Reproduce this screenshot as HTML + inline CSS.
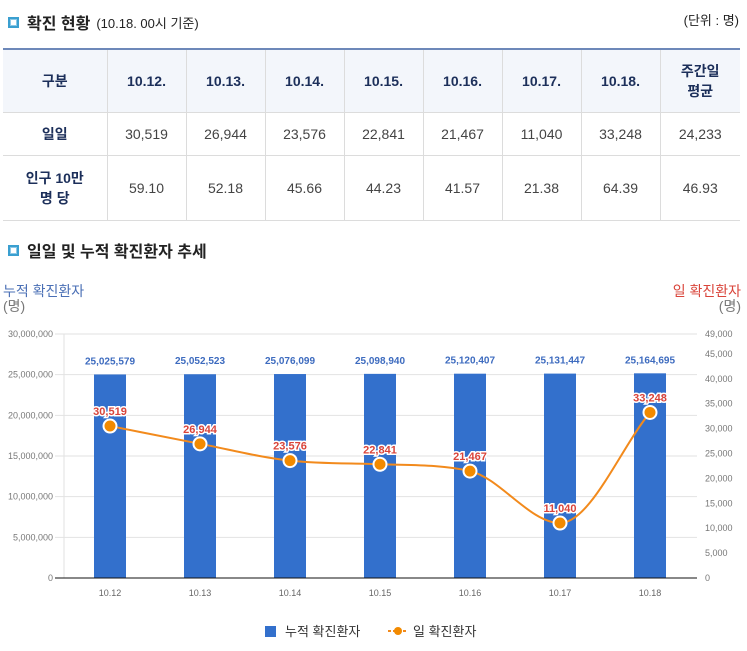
<!DOCTYPE html>
<html><head><meta charset="utf-8">
<style>
body{margin:0;width:747px;height:651px;background:#fff;font-family:"Liberation Sans","Noto Sans CJK KR",sans-serif;overflow:hidden;position:relative}
.ttl{position:absolute;left:8px;font-size:16px;font-weight:bold;color:#222;display:flex;align-items:center}
.ttl .ic{width:7px;height:7px;border:2px solid #3a9fd0;background:#fff;margin-right:8px;box-shadow:inset 0 0 0 1px #8cc8e6}
.ttl small{font-size:13px;font-weight:normal;margin-left:6px}
table{position:absolute;left:3px;top:48px;border-collapse:collapse;width:737px;table-layout:fixed}
td,th{border:1px solid #dcdcdc;text-align:center;font-size:14px;color:#444;padding:0}
tr:first-child th{border-top:2px solid #6d88b9;background:#f3f6fb;color:#1c2f5a;height:62px;font-weight:bold}
td.h{font-weight:bold;color:#1c2f5a}
table tr td:first-child,table tr th:first-child{border-left:none}
table tr td:last-child,table tr th:last-child{border-right:none}
</style></head><body>
<div class="ttl" style="top:10px"><span class="ic"></span>확진 현황<small>(10.18. 00시 기준)</small></div>
<div style="position:absolute;right:8px;top:10px;font-size:13px;color:#222">(단위 : 명)</div>
<table>
<colgroup><col style="width:104px"><col style="width:79px"><col style="width:79px"><col style="width:79px"><col style="width:79px"><col style="width:79px"><col style="width:79px"><col style="width:79px"><col style="width:80px"></colgroup>
<tr><th>구분</th><th>10.12.</th><th>10.13.</th><th>10.14.</th><th>10.15.</th><th>10.16.</th><th>10.17.</th><th>10.18.</th><th>주간일<br>평균</th></tr>
<tr style="height:43px"><td class="h">일일</td><td>30,519</td><td>26,944</td><td>23,576</td><td>22,841</td><td>21,467</td><td>11,040</td><td>33,248</td><td>24,233</td></tr>
<tr style="height:65px"><td class="h">인구 10만<br>명 당</td><td>59.10</td><td>52.18</td><td>45.66</td><td>44.23</td><td>41.57</td><td>21.38</td><td>64.39</td><td>46.93</td></tr>
</table>
<div class="ttl" style="top:238px"><span class="ic"></span>일일 및 누적 확진환자 추세</div>
<div style="position:absolute;left:3px;top:284px;font-size:14px;line-height:15px;color:#4a6fb5">누적 확진환자<br><span style="color:#777">(명)</span></div>
<div style="position:absolute;right:6px;top:284px;font-size:14px;line-height:15px;color:#d9443a;text-align:right">일 확진환자<br><span style="color:#777">(명)</span></div>
<svg id="ch" width="747" height="651" style="position:absolute;left:0;top:0"></svg>
<script>
const categories=["10.12","10.13","10.14","10.15","10.16","10.17","10.18"];
const cumulative=[25025579,25052523,25076099,25098940,25120407,25131447,25164695];
const daily=[30519,26944,23576,22841,21467,11040,33248];
const leftTicks=[0,5000000,10000000,15000000,20000000,25000000,30000000];
const rightTicks=[0,5000,10000,15000,20000,25000,30000,35000,40000,45000,49000];
const NS="http://www.w3.org/2000/svg",svg=document.getElementById('ch');
const x0=65,bw=90,yb=578,yt=334;
const xc=i=>x0+bw*(i+0.5);
const yl=v=>yb-(v/30000000)*(yb-yt);
const yr=v=>yb-(v/49000)*(yb-yt);
const fmt=v=>v.toLocaleString('en-US');
function el(t,a,txt){const e=document.createElementNS(NS,t);for(const k in a)e.setAttribute(k,a[k]);if(txt!=null)e.textContent=txt;svg.appendChild(e);return e;}
leftTicks.forEach(v=>{
 const g=el('line',{x1:55,x2:697,y1:yl(v),y2:yl(v),stroke:'#e2e2e2'});
 
 
 const t=el('text',{x:53,y:yl(v)+3,'text-anchor':'end','font-size':9,fill:'#777'},fmt(v));
 
 
});
rightTicks.forEach(v=>{
 const t=el('text',{x:705,y:yr(v)+3,'font-size':9,fill:'#777'},fmt(v));
 
 
});
el('line',{x1:64,x2:64,y1:yt,y2:yb,stroke:'#e2e2e2'});
categories.forEach((c,i)=>{
 const b=el('rect',{x:xc(i)-16,y:yl(cumulative[i]),width:32,height:yb-yl(cumulative[i]),fill:'#3370cc'});
 
 
 const l=el('text',{x:xc(i),y:yl(cumulative[i])-10,'text-anchor':'middle','font-size':10,'font-weight':'bold',fill:'#3d6bbf'},fmt(cumulative[i]));
 
 
 const xl=el('text',{x:xc(i),y:yb+18,'text-anchor':'middle','font-size':9,fill:'#666'},c);
 
 
});
el('line',{x1:55,x2:697,y1:yb,y2:yb,stroke:'#111','stroke-width':1});
// monotone cubic
const P=daily.map((v,i)=>[xc(i),yr(v)]),n=P.length;
const d=[],m=[];
for(let i=0;i<n-1;i++)d.push((P[i+1][1]-P[i][1])/(P[i+1][0]-P[i][0]));
m[0]=d[0];m[n-1]=d[n-2];
for(let i=1;i<n-1;i++)m[i]=d[i-1]*d[i]<=0?0:(d[i-1]+d[i])/2;
for(let i=0;i<n-1;i++){if(d[i]===0){m[i]=m[i+1]=0;continue;}const a=m[i]/d[i],b=m[i+1]/d[i],s=a*a+b*b;if(s>9){const t=3/Math.sqrt(s);m[i]=t*a*d[i];m[i+1]=t*b*d[i];}}
let path='M'+P[0][0]+','+P[0][1];
for(let i=0;i<n-1;i++){const h=(P[i+1][0]-P[i][0])/3;path+=` C${P[i][0]+h},${P[i][1]+m[i]*h} ${P[i+1][0]-h},${P[i+1][1]-m[i+1]*h} ${P[i+1][0]},${P[i+1][1]}`;}
const ln=el('path',{d:path,fill:'none',stroke:'#f28a1c','stroke-width':2});


daily.forEach((v,i)=>{
 const c=el('circle',{cx:xc(i),cy:yr(v),r:6.5,fill:'#f28a00',stroke:'#fff','stroke-width':2});
 
 
 const t=el('text',{x:xc(i),y:yr(v)-11,'text-anchor':'middle','font-size':11,'font-weight':'bold',fill:'#d9443a',stroke:'#fff','stroke-width':3,'paint-order':'stroke'},fmt(v));
 
 
});
// legend
const lg1=el('rect',{x:265,y:626,width:11,height:11,fill:'#3370cc'});


const lt1=el('text',{x:285,y:636,'font-size':13,fill:'#333'},'누적 확진환자');


const lg2=el('line',{x1:388,x2:408,y1:631,y2:631,stroke:'#f28a1c','stroke-width':2,'stroke-dasharray':'3,2'});


el('circle',{cx:398,cy:631,r:4,fill:'#f28a00'});
const lt2=el('text',{x:413,y:636,'font-size':13,fill:'#333'},'일 확진환자');


</script>
</body></html>
